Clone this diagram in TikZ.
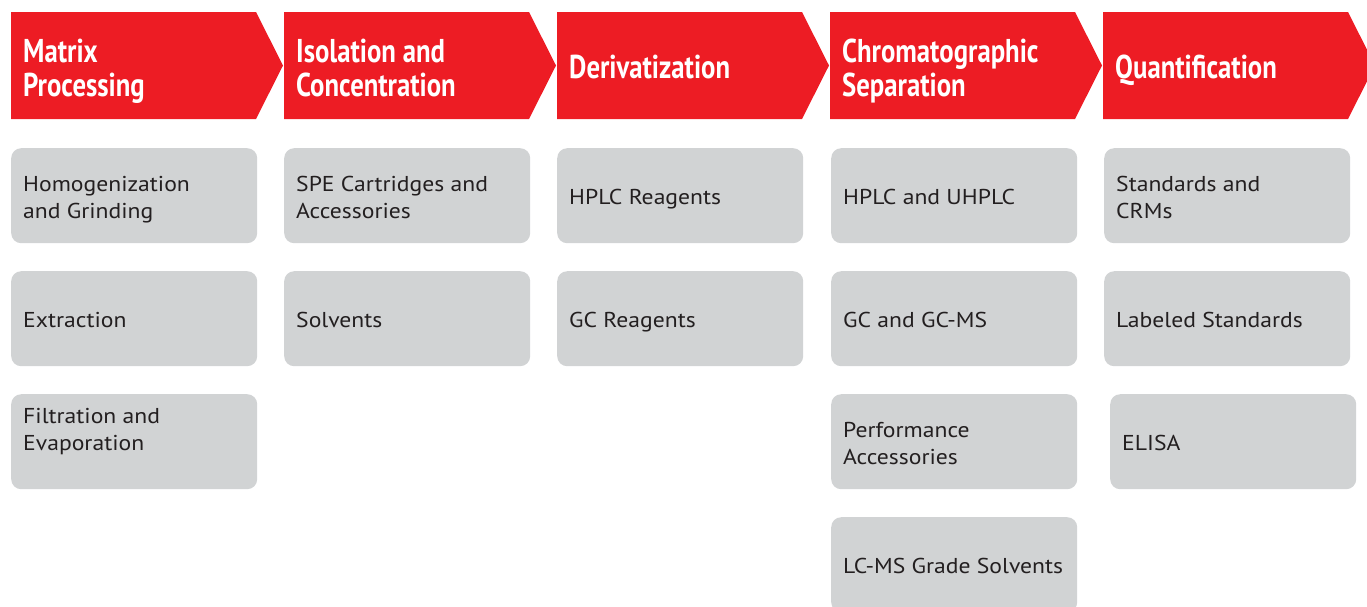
\documentclass[tikz,border=0pt]{standalone}
\usepackage{fontspec}
\setmainfont{PT Sans}[FakeStretch=1.1]
\newfontfamily\headfont[FakeStretch=0.81]{PT Sans}
\definecolor{stepred}{RGB}{237,28,36}
\definecolor{boxgray}{RGB}{209,211,212}
\definecolor{textgray}{RGB}{35,31,32}

\tikzset{
  headlabel/.style={anchor=base west, inner sep=0pt, align=left, text=white,
    font=\headfont\bfseries\fontsize{33}{34}\selectfont},
  itembox/.style={anchor=north west, fill=boxgray, rounded corners=10pt,
    minimum width=246pt, minimum height=95pt},
  itemtext/.style={anchor=base west, inner sep=0pt, align=left, text=textgray,
    font=\fontsize{21.5}{27}\selectfont}
}

\begin{document}
\begin{tikzpicture}[x=1pt, y=1pt]

    \useasboundingbox (0,0) rectangle (1367,-606);

    % red chevrons
    \foreach \i in {0,...,4}
        \fill[stepred] ({11+273*\i},-12) -- ++(245,0) -- ++(27,-53.5) -- ++(-27,-53.5) -- ++(-245,0) -- cycle;

    % (base = baseline of the last line)
    \node[headlabel] (matrix) at (23,-96) {Matrix\\Processing};
    \node[headlabel] (isolation) at (296,-96) {Isolation and\\Concentration};
    \node[headlabel] (deriv) at (569,-78) {Derivatization};
    \node[headlabel] (chrom) at (842,-96) {Chromatographic\\Separation};
    \node[headlabel] (quant) at (1115,-78) {Quantification};

    % column 1
    \node[itembox] (homog) at (11,-148) {};
    \node[itemtext] (homog-t) at ([xshift=12pt,yshift=-70pt]homog.north west) {Homogenization\\and Grinding};
    \node[itembox] (extract) at (11,-271) {};
    \node[itemtext] (extract-t) at ([xshift=12pt,yshift=-56pt]extract.north west) {Extraction};
    \node[itembox] (filtr) at (11,-394) {};
    \node[itemtext] (filtr-t) at ([xshift=12pt,yshift=-56pt]filtr.north west) {Filtration and\\Evaporation};

    % column 2
    \node[itembox] (spe) at (284,-148) {};
    \node[itemtext] (spe-t) at ([xshift=12pt,yshift=-70pt]spe.north west) {SPE Cartridges and\\Accessories};
    \node[itembox] (solv) at (284,-271) {};
    \node[itemtext] (solv-t) at ([xshift=12pt,yshift=-56pt]solv.north west) {Solvents};

    % column 3
    \node[itembox] (hplcreag) at (557,-148) {};
    \node[itemtext] (hplcreag-t) at ([xshift=12pt,yshift=-56pt]hplcreag.north west) {HPLC Reagents};
    \node[itembox] (gcreag) at (557,-271) {};
    \node[itemtext] (gcreag-t) at ([xshift=12pt,yshift=-56pt]gcreag.north west) {GC Reagents};

    % column 4
    \node[itembox] (hplc) at (831,-148) {};
    \node[itemtext] (hplc-t) at ([xshift=12pt,yshift=-56pt]hplc.north west) {HPLC and UHPLC};
    \node[itembox] (gcms) at (831,-271) {};
    \node[itemtext] (gcms-t) at ([xshift=12pt,yshift=-56pt]gcms.north west) {GC and GC-MS};
    \node[itembox] (perf) at (831,-394) {};
    \node[itemtext] (perf-t) at ([xshift=12pt,yshift=-70pt]perf.north west) {Performance\\Accessories};
    \node[itembox] (lcms) at (831,-517) {};
    \node[itemtext] (lcms-t) at ([xshift=12pt,yshift=-56pt]lcms.north west) {LC-MS Grade Solvents};

    % column 5
    \node[itembox] (stds) at (1104,-148) {};
    \node[itemtext] (stds-t) at ([xshift=12pt,yshift=-70pt]stds.north west) {Standards and\\CRMs};
    \node[itembox] (labeled) at (1104,-271) {};
    \node[itemtext] (labeled-t) at ([xshift=12pt,yshift=-56pt]labeled.north west) {Labeled Standards};
    \node[itembox] (elisa) at (1110,-394) {};
    \node[itemtext] (elisa-t) at ([xshift=12pt,yshift=-56pt]elisa.north west) {ELISA};

\end{tikzpicture}
\end{document}
